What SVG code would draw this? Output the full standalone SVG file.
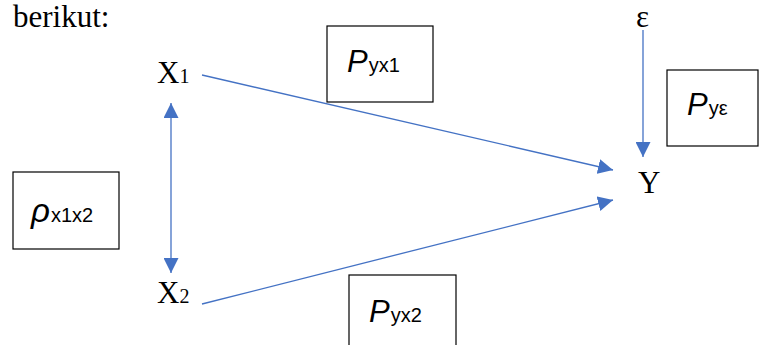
<svg xmlns="http://www.w3.org/2000/svg" width="760" height="345" viewBox="0 0 760 345">
<style>
.t{font-family:"Liberation Serif",serif;font-size:31px;fill:#000}
.s{font-size:20px}
.b{fill:#fff;stroke:#000;stroke-width:1.2}
.p{font-family:"Liberation Sans","Open Sans",sans-serif;fill:#000}
.pi{font-size:31px;font-style:italic}
.ps{font-size:20px}
.c{stroke:#4472C4;stroke-width:1.3;fill:none}
</style>
<defs>
<marker id="ah2" viewBox="0 0 10 10" refX="10" refY="5" markerWidth="15" markerHeight="15" markerUnits="userSpaceOnUse" orient="auto-start-reverse">
<path d="M0,0 L10,5 L0,10 Z" fill="#4472C4"/>
</marker>
</defs>
<text class="t" x="13" y="27">berikut:</text>
<g id="connectors">
<line class="c" x1="202" y1="75" x2="613" y2="170" marker-end="url(#ah2)"/>
<line class="c" x1="202" y1="304" x2="613" y2="200" marker-end="url(#ah2)"/>
<line class="c" x1="643" y1="30" x2="643" y2="157" marker-end="url(#ah2)"/>
<line class="c" x1="171" y1="103" x2="171" y2="273" marker-start="url(#ah2)" marker-end="url(#ah2)"/>
</g>
<g id="X1"><text class="t" x="157" y="83">X<tspan class="s">1</tspan></text></g>
<g id="X2"><text class="t" x="157" y="303">X<tspan class="s">2</tspan></text></g>
<g id="Y"><text class="t" x="638" y="193">Y</text></g>
<g id="eps"><text class="t" x="636" y="27">ε</text></g>
<g id="Pyx1"><rect class="b" x="327" y="26" width="106" height="76"/><text class="p" x="347" y="72"><tspan class="pi">P</tspan><tspan class="ps" dx="1">yx1</tspan></text></g>
<g id="Pye"><rect class="b" x="667" y="70" width="91" height="76"/><text class="p" x="687" y="115"><tspan class="pi">P</tspan><tspan class="ps" dx="1">yε</tspan></text></g>
<g id="rho"><rect class="b" x="13" y="172" width="106" height="77"/><text class="p" x="31" y="222"><tspan class="pi" style="font-size:33px">ρ</tspan><tspan class="ps" dx="1">x1x2</tspan></text></g>
<g id="Pyx2"><rect class="b" x="349" y="275" width="107" height="80"/><text class="p" x="369" y="322"><tspan class="pi">P</tspan><tspan class="ps" dx="1">yx2</tspan></text></g>
</svg>
